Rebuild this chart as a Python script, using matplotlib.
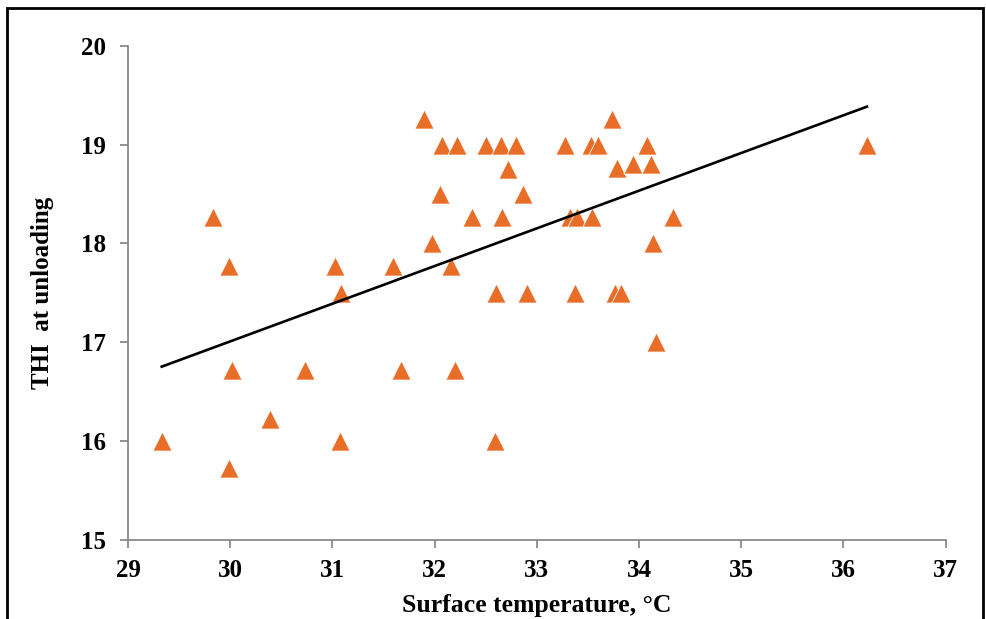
import numpy as np
import matplotlib
matplotlib.use("Agg")
import matplotlib.pyplot as plt
from matplotlib.patches import Rectangle

surface_temp = [29.33, 29.83, 29.99, 29.99, 30.02, 30.39, 30.73, 31.03, 31.08, 31.07,
                31.59, 31.67, 31.90, 31.97, 32.05, 32.07, 32.16, 32.20, 32.22, 32.37,
                32.50, 32.59, 32.60, 32.65, 32.66, 32.72, 32.80, 32.86, 32.90, 33.28,
                33.32, 33.39, 33.37, 33.53, 33.54, 33.60, 33.74, 33.76, 33.78, 33.82,
                33.94, 34.08, 34.12, 34.14, 34.17, 34.33, 36.23]
thi_unloading = [16.00, 18.27, 17.77, 15.73, 16.72, 16.22, 16.72, 17.77, 17.50, 16.00,
                 17.77, 16.72, 19.26, 18.00, 18.50, 19.00, 17.77, 16.72, 19.00, 18.27,
                 19.00, 16.00, 17.50, 19.00, 18.27, 18.75, 19.00, 18.50, 17.50, 19.00,
                 18.27, 18.27, 17.50, 19.00, 18.27, 19.00, 19.26, 17.50, 18.76, 17.50,
                 18.80, 19.00, 18.80, 18.00, 17.00, 18.27, 19.00]
x_ticks = [29, 30, 31, 32, 33, 34, 35, 36, 37]
y_ticks = [15, 16, 17, 18, 19, 20]
x_label = "Surface temperature, °C"
y_label = "THI  at unloading"

plt.rcParams['font.family'] = ['Liberation Serif', 'DejaVu Serif']
plt.rcParams['font.weight'] = 'bold'

fig = plt.figure(figsize=(9.87, 6.19), dpi=100)
ax = fig.add_axes([128/987, 1-540/619, (945.7-128)/987, (540-45.7)/619])

x = np.array(surface_temp)
y = np.array(thi_unloading)
ax.scatter(x, y, marker='^', s=190, color='#E86D27', edgecolors='white',
           linewidths=0.6, zorder=3)

slope, intercept = np.polyfit(x, y, 1)
xl = np.array([x.min(), x.max()])
ax.plot(xl, slope*xl + intercept, color='black', lw=1.9, zorder=4)

ax.set_xlim(29, 37)
ax.set_ylim(15, 20)
ax.set_xticks(x_ticks)
ax.set_yticks(y_ticks)
ax.tick_params(axis='both', colors='#808080', labelcolor='black', labelsize=18,
               length=6, width=1.2, direction='out')
ax.tick_params(axis='x', pad=8)
ax.tick_params(axis='y', pad=10)
for lbl in ax.get_xticklabels() + ax.get_yticklabels():
    lbl.set_fontweight('bold')
for s in ['top', 'right']:
    ax.spines[s].set_visible(False)
for s in ['left', 'bottom']:
    ax.spines[s].set_color('#808080')
    ax.spines[s].set_linewidth(1.2)

ax.set_xlabel(x_label, fontsize=18.5, fontweight='bold', labelpad=8)
ax.set_ylabel(y_label, fontsize=18, fontweight='bold', labelpad=19)

fig.patches.append(Rectangle((7/987, -0.05), (983-7)/987, 1.05 - 8/619,
                             transform=fig.transFigure, fill=False,
                             edgecolor='black', lw=2.0))

fig.savefig("out.png", dpi=100)
